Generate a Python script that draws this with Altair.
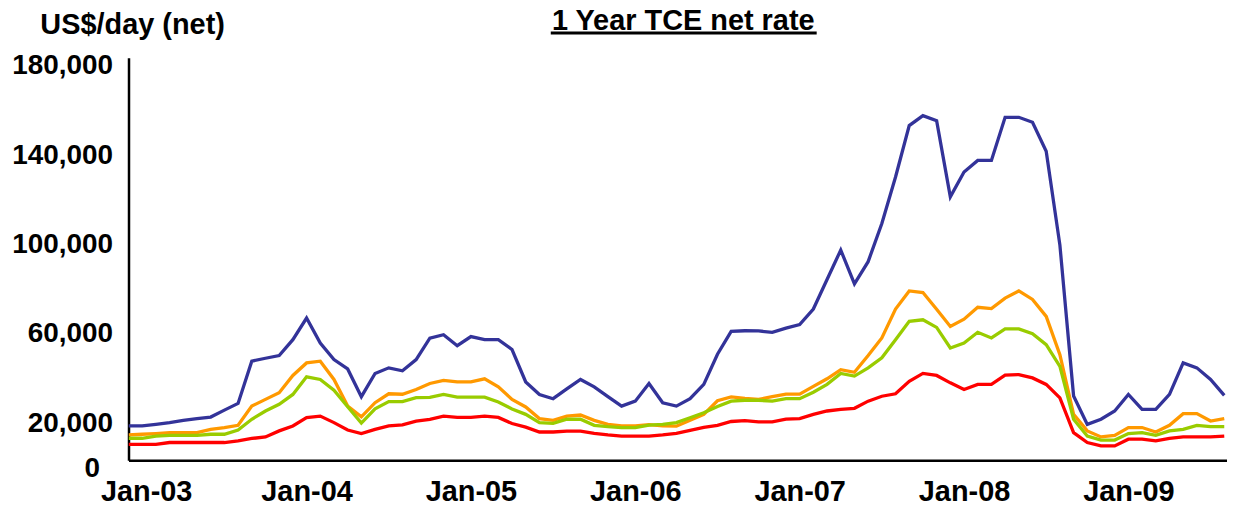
import json
import altair as alt
import pandas as pd

# Monthly 1-year TCE net rates (US$/day), Dec-02 .. Aug-09 (81 months)
series_names = ["Capesize", "Panamax", "Supramax", "Handysize"]
series_colors = ["#333399", "#FF9900", "#99CC00", "#FF0000"]

capesize = [15300, 15300, 16000, 16800, 17800, 18600, 19300, 22400, 25400, 44300,
            45600, 46800, 53900, 63600, 52400, 45000, 40800, 28400, 38800, 41300,
            40000, 45000, 54600, 56100, 51200, 55300, 53900, 53900, 49500, 35000,
            29400, 27500, 31900, 36100, 32800, 28400, 24200, 26400, 34300, 25700,
            24200, 27500, 33900, 47400, 57600, 57900, 57800, 57200, 59100, 60700,
            67600, 80800, 94000, 78900, 88800, 105900, 126700, 149700, 154100, 151900,
            117800, 128900, 134100, 134100, 153400, 153400, 151200, 138200, 96200, 28700,
            16000, 18300, 22000, 29400, 22700, 22700, 29400, 43500, 41300, 36100,
            29000]
panamax = [11300, 11600, 11900, 12300, 12300, 12300, 13800, 14600, 15600, 24200,
           27200, 30200, 37900, 43500, 44300, 36100, 24200, 19400, 25700, 29700,
           29500, 31600, 34300, 35700, 35000, 35000, 36400, 32800, 27200, 23800,
           18600, 17800, 19700, 20200, 17800, 16000, 15300, 15300, 15900, 15300,
           15200, 17900, 20500, 26600, 28300, 27600, 27200, 28400, 29500, 29500,
           33000, 36400, 40500, 39300, 46800, 54700, 67600, 75700, 75000, 67500,
           59800, 63100, 68400, 67800, 72500, 75700, 71900, 64300, 47200, 20500,
           13100, 10400, 11100, 14600, 14600, 12600, 15600, 20800, 20800, 17500,
           18600]
supramax = [9800, 9800, 10800, 11100, 11100, 11100, 11600, 11600, 13500, 18300,
            22000, 25000, 29400, 37300, 36100, 31300, 23900, 16600, 23000, 26200,
            26200, 28000, 28100, 29400, 28200, 28200, 28200, 26000, 22900, 20500,
            16800, 16500, 18300, 18300, 15600, 15000, 14600, 14600, 15700, 16000,
            16800, 19000, 21200, 24000, 26400, 26800, 26800, 26400, 27500, 27500,
            30400, 33900, 38800, 37600, 41300, 45800, 53900, 62100, 62800, 59400,
            50200, 52400, 57200, 54700, 58700, 58700, 56600, 51700, 42000, 18300,
            10800, 9000, 9000, 11900, 12300, 11100, 13100, 13800, 15600, 15000,
            15000]
handysize = [7100, 7100, 7100, 7900, 7900, 7900, 7900, 7900, 8600, 9700,
             10400, 13100, 15300, 19000, 19700, 16800, 13500, 11900, 13800, 15300,
             15800, 17500, 18300, 19700, 19100, 19100, 19700, 19100, 16400, 14800,
             12600, 12600, 13000, 13000, 12000, 11300, 10800, 10800, 10800, 11300,
             12000, 13300, 14700, 15600, 17300, 17700, 17100, 17100, 18400, 18600,
             20500, 22000, 22700, 23200, 26400, 28600, 29700, 35300, 38800, 37900,
             34600, 31600, 33900, 33900, 38000, 38300, 36800, 33900, 27900, 12300,
             7900, 6400, 6400, 9400, 9400, 8600, 9700, 10400, 10400, 10400,
             10800]

x_tick_labels = ["Jan-03", "Jan-04", "Jan-05", "Jan-06", "Jan-07", "Jan-08", "Jan-09"]
y_tick_values = [0, 20000, 60000, 100000, 140000, 180000]
chart_title = "1 Year TCE net rate"
y_title = "US$/day (net)"

FONT = "Liberation Sans"

months = pd.date_range("2002-12-01", periods=len(capesize), freq="MS")
rows = []
for name, vals in zip(series_names, [capesize, panamax, supramax, handysize]):
    for i, v in enumerate(vals):
        rows.append({"idx": i, "month": months[i].strftime("%b-%y"), "series": name, "rate": v})
df = pd.DataFrame(rows)

tick_idx = [i for i, m in enumerate(months) if m.month == 1]
label_expr = json.dumps(x_tick_labels) + "[round((datum.value - %d) / 12)]" % tick_idx[0]

lines = alt.Chart(df).mark_line(strokeWidth=3.3, clip=True).encode(
    x=alt.X("idx:Q",
            scale=alt.Scale(domain=[0, 80.2], nice=False, zero=False),
            axis=alt.Axis(values=tick_idx, labelExpr=label_expr, title=None,
                          labelFont=FONT, labelFontSize=29, labelFontWeight="bold",
                          labelColor="black", labelPadding=18, ticks=False, tickSize=0,
                          labelOffset={"condition": {"test": "datum.value == %d" % tick_idx[0], "value": 4}, "value": 0},
                          labelFlush=False, labelOverlap=False,
                          domainColor="black", domainWidth=2.5, grid=False)),
    y=alt.Y("rate:Q",
            scale=alt.Scale(domain=[0, 180000], nice=False),
            axis=alt.Axis(values=y_tick_values, format=",d", title=y_title,
                          labelFont=FONT, labelFontSize=28, labelFontWeight="bold",
                          labelColor="black",
                          labelPadding={"condition": {"test": "datum.value == 0", "value": 29}, "value": 16},
                          labelOffset=8,
                          ticks=False, tickSize=0, domainColor="black", domainWidth=2.5,
                          grid=False, titleAngle=0, titleAlign="left",
                          titleBaseline="alphabetic", titleX=-89, titleY=-24,
                          titleFont=FONT, titleFontSize=29, titleFontWeight="bold",
                          titleColor="black")),
    color=alt.Color("series:N", sort=series_names,
                    scale=alt.Scale(domain=series_names, range=series_colors),
                    legend=None),
    order=alt.Order("idx:Q"),
)

title_df = pd.DataFrame({"t": [chart_title]})
title_text = alt.Chart(title_df).mark_text(
    font=FONT, fontSize=29, fontWeight="bold", color="black",
    align="center", baseline="alphabetic"
).encode(text="t:N", x=alt.value(557), y=alt.value(-28))

underline = alt.Chart(title_df).mark_rule(color="black", strokeWidth=3).encode(
    x=alt.value(424), x2=alt.value(691), y=alt.value(-25)
)

chart = alt.layer(lines, title_text, underline).properties(
    width=1103, height=404,
    autosize=alt.AutoSizeParams(type="none"),
    padding={"left": 121, "top": 49, "right": 0, "bottom": 46},
    background="white",
).configure_view(stroke=None)

chart.save("out.html", embed_options={"renderer": "svg", "actions": False})
